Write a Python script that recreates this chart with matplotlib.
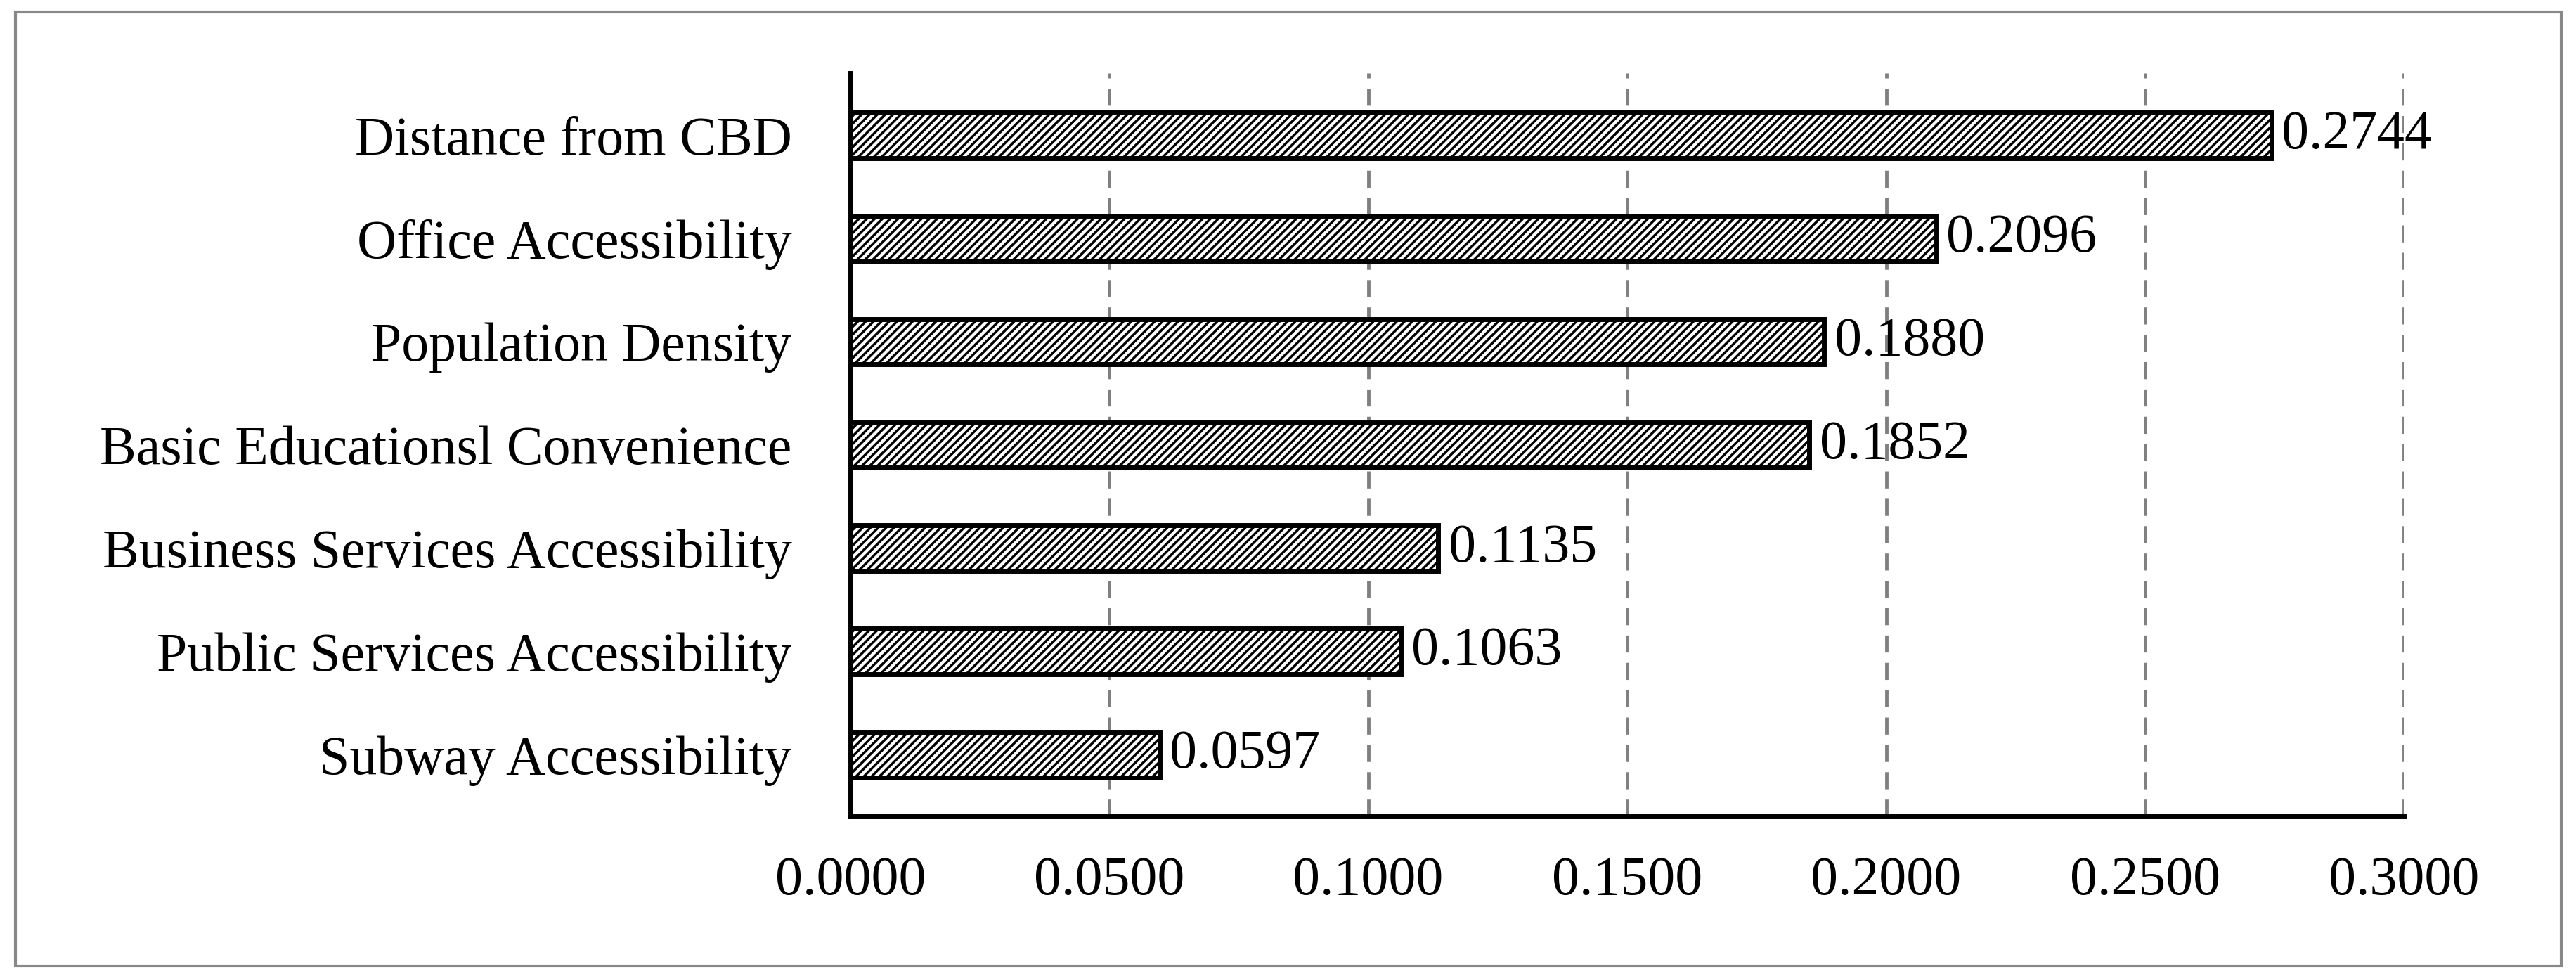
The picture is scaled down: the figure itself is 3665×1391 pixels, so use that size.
import matplotlib
matplotlib.use("Agg")
import matplotlib.pyplot as plt
from matplotlib.patches import Rectangle

categories = ["Distance from CBD", "Office Accessibility", "Population Density",
              "Basic Educationsl Convenience", "Business Services Accessibility",
              "Public Services Accessibility", "Subway Accessibility"]
values = [0.2744, 0.2096, 0.1880, 0.1852, 0.1135, 0.1063, 0.0597]
ticks = [0.0, 0.05, 0.10, 0.15, 0.20, 0.25, 0.30]

plt.rcParams['font.family'] = ['Liberation Serif', 'DejaVu Serif']
plt.rcParams['hatch.color'] = '#808080'
plt.rcParams['hatch.linewidth'] = 2.5

fig = plt.figure(figsize=(36.66, 13.91), dpi=100)
fig.patches.append(Rectangle((0.006, 0.012), 0.988, 0.976, transform=fig.transFigure,
                             fill=False, edgecolor='#888888', linewidth=3))
ax = fig.add_axes([0.330, 0.165, 0.603, 0.76])
y = list(range(len(categories)))[::-1]
ax.barh(y, values, height=0.44, color='white', edgecolor='black', linewidth=5, hatch='///', zorder=3)
for yi, v in zip(y, values):
    ax.text(v + 0.002, yi, f"{v:.4f}", va='center', ha='left', fontsize=56, zorder=4)
ax.set_xlim(0, 0.30)
ax.set_ylim(-0.6, 6.6)
ax.set_xticks(ticks)
ax.set_xticklabels([f"{t:.4f}" for t in ticks], fontsize=56)
ax.set_yticks(y)
ax.set_yticklabels(categories, fontsize=56)
ax.tick_params(length=0, pad=60)
ax.tick_params(axis='x', pad=40)
ax.xaxis.grid(True, linestyle=(0, (5, 3)), color='#808080', linewidth=3.5, zorder=0)
for s in ['top', 'right']:
    ax.spines[s].set_visible(False)
for s in ['left', 'bottom']:
    ax.spines[s].set_linewidth(5)
fig.savefig("out.png", dpi=100)
